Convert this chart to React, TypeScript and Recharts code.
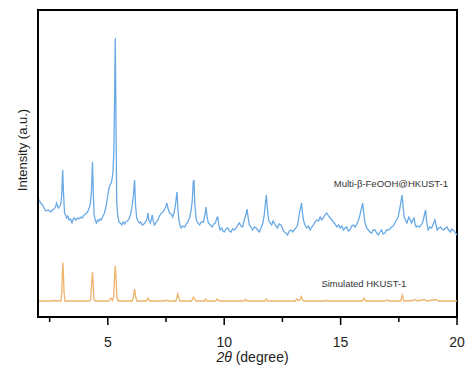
import React from "react";
import { LineChart, Line, XAxis, YAxis, ReferenceDot, ReferenceArea } from "recharts";

// Multi-β-FeOOH@HKUST-1 (measured)
const multiX = [
  2.0, 2.04, 2.12, 2.2, 2.28, 2.34, 2.45, 2.56, 2.62, 2.69, 2.75, 2.8, 2.85, 2.88, 2.94, 2.98,
  3.02, 3.06, 3.1, 3.14, 3.18, 3.23, 3.28, 3.34, 3.4, 3.46, 3.5, 3.55, 3.62, 3.7, 3.76, 3.84,
  3.9, 3.98, 4.05, 4.13, 4.2, 4.25, 4.3, 4.34, 4.38, 4.41, 4.46, 4.51, 4.57, 4.62, 4.66, 4.72,
  4.77, 4.84, 4.91, 4.98, 5.05, 5.1, 5.17, 5.22, 5.26, 5.29, 5.32, 5.35, 5.38, 5.42, 5.48, 5.54,
  5.6, 5.66, 5.72, 5.77, 5.84, 5.91, 5.98, 6.05, 6.1, 6.15, 6.19, 6.24, 6.3, 6.36, 6.41, 6.48,
  6.55, 6.62, 6.68, 6.72, 6.76, 6.83, 6.87, 6.91, 6.96, 7.01, 7.08, 7.15, 7.22, 7.3, 7.37, 7.44,
  7.5, 7.54, 7.58, 7.65, 7.72, 7.79, 7.84, 7.9, 7.94, 7.97, 8.01, 8.05, 8.1, 8.15, 8.22, 8.3,
  8.37, 8.44, 8.52, 8.58, 8.63, 8.67, 8.7, 8.74, 8.8, 8.87, 8.94, 9.02, 9.11, 9.17, 9.22, 9.27,
  9.32, 9.4, 9.48, 9.55, 9.62, 9.68, 9.72, 9.77, 9.82, 9.9, 9.95, 10.0, 10.08, 10.15, 10.22, 10.29,
  10.36, 10.44, 10.51, 10.58, 10.65, 10.72, 10.79, 10.86, 10.94, 10.98, 11.03, 11.08, 11.15, 11.22, 11.3, 11.37,
  11.44, 11.51, 11.58, 11.65, 11.72, 11.76, 11.81, 11.85, 11.91, 11.97, 12.04, 12.1, 12.15, 12.22, 12.29, 12.36,
  12.44, 12.51, 12.58, 12.65, 12.72, 12.8, 12.87, 12.94, 13.01, 13.08, 13.15, 13.21, 13.26, 13.32, 13.36, 13.4,
  13.47, 13.55, 13.62, 13.69, 13.76, 13.83, 13.9, 13.98, 14.05, 14.12, 14.19, 14.26, 14.33, 14.41, 14.48, 14.55,
  14.62, 14.69, 14.76, 14.84, 14.91, 14.98, 15.05, 15.12, 15.19, 15.26, 15.33, 15.4, 15.48, 15.55, 15.62, 15.72,
  15.8, 15.86, 15.95, 16.0, 16.05, 16.12, 16.19, 16.26, 16.33, 16.4, 16.48, 16.55, 16.62, 16.69, 16.76, 16.83,
  16.9, 16.97, 17.04, 17.12, 17.19, 17.26, 17.33, 17.4, 17.47, 17.53, 17.57, 17.64, 17.69, 17.73, 17.79, 17.85,
  17.93, 17.99, 18.05, 18.1, 18.15, 18.2, 18.25, 18.32, 18.39, 18.46, 18.53, 18.6, 18.65, 18.7, 18.76, 18.84,
  18.91, 18.98, 19.05, 19.1, 19.15, 19.22, 19.29, 19.36, 19.43, 19.5, 19.57, 19.64, 19.72, 19.77, 19.82, 19.88,
  19.93, 20.0,
];
const multiI = [
  118, 117, 114, 112, 108, 106, 107, 105, 107, 108, 110, 114, 110, 109, 111, 113,
  122, 147, 122, 104, 102, 99, 101, 97, 98, 94, 97, 99, 97, 99, 98, 100,
  99, 102, 103, 105, 109, 113, 127, 155, 122, 102, 97, 94, 97, 96, 98, 97,
  100, 103, 109, 119, 129, 132, 136, 145, 167, 217, 279, 197, 117, 102, 95, 94,
  92, 95, 93, 95, 96, 98, 103, 112, 122, 137, 112, 99, 96, 94, 95, 92,
  93, 95, 98, 104, 97, 94, 98, 102, 95, 92, 95, 97, 101, 104, 105, 108,
  111, 114, 109, 104, 103, 100, 104, 111, 119, 125, 109, 97, 92, 89, 91, 90,
  93, 95, 100, 107, 117, 135, 137, 112, 97, 94, 92, 95, 95, 102, 110, 99,
  94, 92, 90, 93, 94, 99, 100, 92, 87, 89, 86, 85, 88, 89, 86, 85,
  88, 87, 89, 92, 94, 91, 90, 97, 103, 108, 99, 92, 90, 87, 90, 89,
  87, 85, 89, 93, 102, 112, 122, 109, 97, 94, 92, 96, 94, 91, 89, 93,
  92, 88, 85, 84, 82, 86, 87, 85, 87, 89, 92, 101, 107, 114, 105, 97,
  92, 89, 91, 87, 90, 92, 95, 97, 96, 100, 97, 99, 102, 104, 101, 99,
  97, 95, 93, 90, 92, 89, 91, 87, 89, 90, 86, 87, 91, 92, 90, 94,
  99, 105, 114, 102, 94, 89, 87, 85, 84, 87, 87, 84, 82, 85, 87, 83,
  84, 87, 87, 88, 90, 91, 94, 97, 100, 107, 112, 122, 109, 100, 97, 94,
  100, 97, 94, 97, 99, 93, 90, 91, 90, 92, 95, 102, 107, 95, 87, 90,
  89, 93, 97, 92, 87, 89, 90, 88, 87, 89, 90, 87, 85, 88, 87, 86,
  84, 82,
];

// Simulated HKUST-1
const simX = [
  2.0, 2.5, 2.75, 2.85, 2.98, 3.02, 3.05, 3.07, 3.09, 3.12, 3.16, 3.6, 4.2, 4.26, 4.3, 4.34,
  4.37, 4.41, 4.46, 5.05, 5.13, 5.2, 5.25, 5.29, 5.32, 5.35, 5.39, 5.44, 6.05, 6.1, 6.15, 6.2,
  6.25, 6.65, 6.72, 6.79, 7.45, 7.52, 7.6, 7.92, 7.97, 8.0, 8.04, 8.1, 8.6, 8.65, 8.68, 8.72,
  8.78, 9.15, 9.2, 9.26, 9.62, 9.7, 9.78, 10.85, 10.92, 10.99, 11.75, 11.81, 11.87, 12.6,
  13.05, 13.12, 13.18, 13.25, 13.31, 13.37, 13.44, 14.35, 14.4, 14.45, 15.5, 15.93, 16.0, 16.07,
  16.9, 17.0, 17.1, 17.58, 17.65, 17.72, 18.1, 18.2, 18.3, 18.6, 18.7, 19.1, 19.2, 20.0,
];
const simI = [
  16, 16, 16.5, 16, 16, 24, 45, 54.5, 45, 24, 16, 16, 16, 17, 32, 45,
  32, 17, 16, 16, 19, 16.5, 20, 40, 51, 40, 20, 16, 16, 20, 28, 20,
  16, 16, 19, 16, 16, 17, 16, 16, 20, 23, 20, 16, 16, 18.5, 20, 18.5,
  16, 16, 18, 16, 16, 18, 16, 16, 17.5, 16, 16, 18, 16, 16,
  16, 18, 16.5, 17, 20.5, 17, 16, 16, 17, 16, 16, 16, 19, 16,
  16, 17, 16, 16, 22, 16, 16.5, 17.5, 16, 17.5, 16, 17.5, 16, 16,
];

const xTicks = [2.5, 5, 7.5, 10, 12.5, 15, 17.5, 20];

const multiData = multiX.map((x, i) => ({ x, y: multiI[i] }));
const simData = simX.map((x, i) => ({ x, y: simI[i] }));

const FONT = "'Liberation Sans', Arial, sans-serif";

const Tick = (props: any) => {
  const { x, y, payload } = props;
  const major = payload.value % 5 === 0;
  return (
    <g>
      <line x1={x} x2={x} y1={y} y2={y + (major ? 8 : 5)} stroke="#000" strokeWidth={1.5} />
      {major && (
        <text x={x} y={y + 30} textAnchor="middle" fontSize={14} fill="#222" fontFamily={FONT}>
          {payload.value}
        </text>
      )}
    </g>
  );
};

export default function App() {
  return (
    <div style={{ position: "absolute", left: 0, top: 0, background: "#fff" }}>
      <LineChart width={474} height={373} margin={{ top: 10, right: 17, left: 0, bottom: 0 }}>
        <XAxis
          dataKey="x"
          type="number"
          domain={[2, 20]}
          ticks={xTicks}
          interval={0}
          height={56}
          tickSize={0}
          tickMargin={0}
          tick={<Tick />}
          tickLine={false}
          axisLine={{ stroke: "#000", strokeWidth: 2 }}
          allowDataOverflow
          label={{
            content: (p: any) => {
              const vb = p.viewBox;
              return (
                <text
                  x={vb.x + vb.width / 2 + 5}
                  y={vb.y + 45}
                  textAnchor="middle"
                  fontSize={14}
                  fill="#222"
                  fontFamily={FONT}
                >
                  <tspan fontStyle="italic">2θ</tspan>
                  <tspan> (degree)</tspan>
                </text>
              );
            },
          }}
        />
        <YAxis
          type="number"
          domain={[0, 307]}
          width={38}
          tick={false}
          tickLine={false}
          axisLine={{ stroke: "#000", strokeWidth: 2 }}
          label={{
            content: () => (
              <text
                x={27}
                y={150}
                transform="rotate(-90, 27, 150)"
                textAnchor="middle"
                fontSize={13}
                fill="#222"
                fontFamily={FONT}
              >
                Intensity (a.u.)
              </text>
            ),
          }}
        />
        <ReferenceArea
          x1={2}
          x2={20}
          y1={0}
          y2={307}
          fill="none"
          fillOpacity={0}
          stroke="#000"
          strokeWidth={2}
          strokeOpacity={1}
          ifOverflow="visible"
        />
        <Line
          data={simData}
          dataKey="y"
          type="linear"
          stroke="#eeb46c"
          strokeWidth={1.3}
          dot={false}
          activeDot={false}
          isAnimationActive={false}
        />
        <Line
          data={multiData}
          dataKey="y"
          type="linear"
          stroke="#69aae6"
          strokeWidth={1.3}
          dot={false}
          activeDot={false}
          isAnimationActive={false}
        />
        <ReferenceDot
          x={17.16}
          y={133}
          r={1}
          fillOpacity={0}
          strokeOpacity={0}
          ifOverflow="visible"
          label={{ value: "Multi-β-FeOOH@HKUST-1", position: "center", fontSize: 9.5, fill: "#333", fontFamily: FONT }}
        />
        <ReferenceDot
          x={16.0}
          y={33}
          r={1}
          fillOpacity={0}
          strokeOpacity={0}
          ifOverflow="visible"
          label={{ value: "Simulated HKUST-1", position: "center", fontSize: 9.5, fill: "#333", fontFamily: FONT }}
        />
      </LineChart>
    </div>
  );
}
